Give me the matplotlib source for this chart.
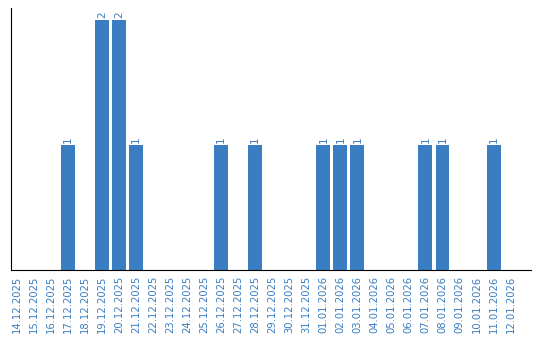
import numpy as np
import matplotlib.pyplot as plt

dates = ['14.12.2025', '15.12.2025', '16.12.2025', '17.12.2025', '18.12.2025',
         '19.12.2025', '20.12.2025', '21.12.2025', '22.12.2025', '23.12.2025',
         '24.12.2025', '25.12.2025', '26.12.2025', '27.12.2025', '28.12.2025',
         '29.12.2025', '30.12.2025', '31.12.2025', '01.01.2026', '02.01.2026',
         '03.01.2026', '04.01.2026', '05.01.2026', '06.01.2026', '07.01.2026',
         '08.01.2026', '09.01.2026', '10.01.2026', '11.01.2026', '12.01.2026']
counts = [0, 0, 0, 1, 0, 2, 2, 1, 0, 0, 0, 0, 1, 0, 1,
          0, 0, 0, 1, 1, 1, 0, 0, 0, 1, 1, 0, 0, 1, 0]

blue = '#3a7dc2'

fig = plt.figure(figsize=(5.4, 3.4), dpi=100)
ax = fig.add_axes([11 / 540, 70 / 340, 520 / 540, 262 / 340])

x = np.arange(len(dates))
bars = ax.bar(x, counts, width=0.82, color=blue)
for xi, c in zip(x, counts):
    if c > 0:
        ax.text(xi, c + 0.02, str(c), rotation=90, ha='center', va='bottom',
                color=blue, fontsize=7.5)

ax.set_xlim(-0.35, 30.2)
ax.set_ylim(0, 2.1)
ax.set_yticks([])
ax.set_xticks(x)
ax.set_xticklabels(dates, rotation=90, color=blue, fontsize=7.2)
ax.tick_params(axis='x', length=0, pad=4)
ax.spines['top'].set_visible(False)
ax.spines['right'].set_visible(False)

fig.savefig('out.png', dpi=100)
